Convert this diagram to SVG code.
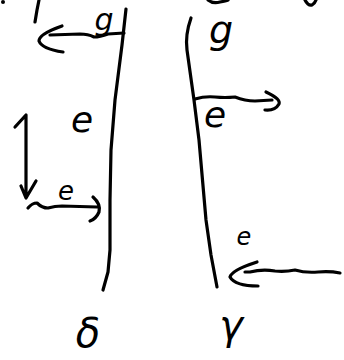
<svg xmlns="http://www.w3.org/2000/svg" width="344" height="360" viewBox="0 0 344 360">
<style>
.s{fill:none;stroke:#000;stroke-width:3.2;stroke-linecap:round;stroke-linejoin:round}
.t{font-family:"DejaVu Sans",sans-serif;font-style:italic;fill:#000;text-anchor:middle}
</style>
<rect width="344" height="360" fill="#fff"/>
<g id="fragments">
<circle cx="3" cy="2" r="2" fill="#000"/>
<path class="s" d="M39,0 L37,10 L35,22"/>
<path class="s" d="M208,0 Q213,4 220,2 Q226,1 228,0"/>
<path class="s" d="M305,0 Q308,6 312,5 Q315,3 316,0"/>
</g>
<g id="walls">
<path id="left-wall" class="s" d="M126,9 L122,45 L115,100 L111,150 L110,200 L110,250 L108,272 L103,290"/>
<path id="right-wall" class="s" d="M191,18 Q185,35 187,50 L194,100 L199,140 L206,220 L211,255 L217,287"/>
</g>
<g id="connectors">
<path id="arrow-top-left" class="s" d="M124,33 L108,34 Q100,37 94,37 Q88,34 80,34 L50,35 M62,26 Q39,34 39,41 Q42,49 63,52"/>
<path id="arrow-top-right" class="s" d="M195,99 Q205,96 215,97 Q225,98 235,97 Q245,101 255,101 L272,100 M266,92 Q281,99 279,104 Q275,111 265,110"/>
<path id="arrow-vertical" class="s" d="M15,127 L26,115 L26,197 M21,186 L26,198 L36,181"/>
<path id="arrow-lower-left" class="s" d="M28,208 Q32,203 37,203 Q42,208 48,208 Q55,206 62,206 L97,207 M93,197 Q101,204 99,212 Q96,219 90,221"/>
<path id="arrow-bottom-right" class="s" d="M340,273 Q330,271 318,272 Q305,273 295,270 Q285,272 275,271 Q262,269 250,272 L245,272 M257,262 Q232,270 230,277 Q235,286 258,286"/>
</g>
<g id="label-g-left"><text class="t" x="104" y="30" font-size="30">g</text></g>
<g id="label-g-right"><text class="t" x="221" y="43" font-size="38">g</text></g>
<g id="label-e-right"><text class="t" x="215" y="127" font-size="36">e</text></g>
<g id="label-e-left"><text class="t" x="82" y="132" font-size="36">e</text></g>
<g id="label-e-small"><text class="t" x="66" y="200" font-size="26">e</text></g>
<g id="label-e-bottom"><text class="t" x="244" y="245" font-size="24">e</text></g>
<g id="label-delta"><text class="t" x="88" y="347" font-size="40">δ</text></g>
<g id="label-gamma"><text class="t" x="231" y="339" font-size="40">γ</text></g>
</svg>
